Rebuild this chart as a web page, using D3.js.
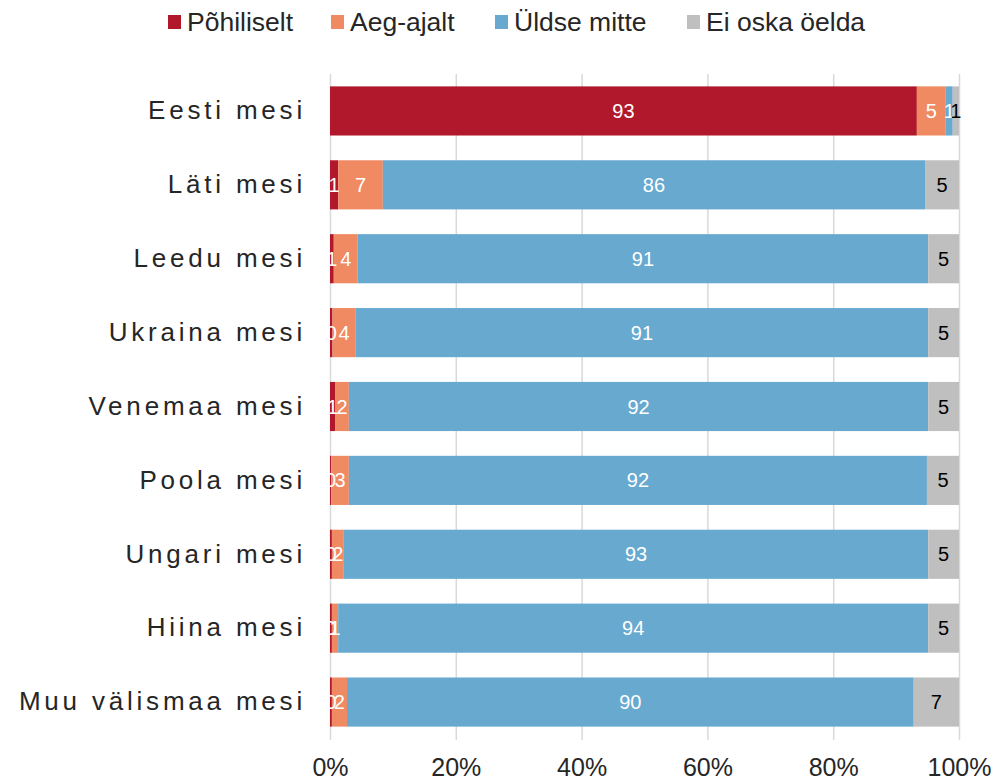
<!DOCTYPE html>
<html>
<head>
<meta charset="utf-8">
<script src="https://cdn.jsdelivr.net/npm/d3@7"></script>
<style>
  body { margin: 0; background: #fff; }
  svg { font-family: "Liberation Sans", Arial, sans-serif; }
</style>
</head>
<body>
<svg id="chart_svg" width="997" height="782"></svg>
<script>
// categories (top to bottom)
const categories = [
  "Eesti mesi", "Läti mesi", "Leedu mesi", "Ukraina mesi", "Venemaa mesi",
  "Poola mesi", "Ungari mesi", "Hiina mesi", "Muu välismaa mesi"
]

// series names
const seriesNames = ["Põhiliselt", "Aeg-ajalt", "Üldse mitte", "Ei oska öelda"]

// series values, percent
const pohiliselt = [93.3, 1.3, 0.6, 0.4, 0.8, 0.2, 0.3, 0.3, 0.3]
const aegAjalt = [4.6, 7.1, 3.8, 3.7, 2.2, 2.8, 1.9, 1.0, 2.4]
const uldseMitte = [1.1, 86.2, 90.7, 91.0, 92.1, 91.9, 92.9, 93.8, 90.1]
const eiOska = [1.0, 5.4, 4.9, 4.9, 4.9, 5.1, 4.9, 4.9, 7.2]

// x axis ticks
const xTicks = [0, 20, 40, 60, 80, 100]

const colors = ["#b2182b", "#ef8a62", "#67a9cf", "#bfbfbf"]
const labelColors = ["#ffffff", "#ffffff", "#ffffff", "#000000"]

const margin = { top: 74, bottom: 43, left: 330, right: 38 }
const svg = d3.select("#chart_svg")
const width = +svg.attr("width")
const height = +svg.attr("height")

const table = categories.map((c, i) => ({
  category: c,
  [seriesNames[0]]: pohiliselt[i],
  [seriesNames[1]]: aegAjalt[i],
  [seriesNames[2]]: uldseMitte[i],
  [seriesNames[3]]: eiOska[i],
}))

const stacked = d3.stack().keys(seriesNames)(table)

const xScale = d3.scaleLinear()
  .domain([0, 100])
  .range([margin.left, width - margin.right])

const yScale = d3.scaleBand()
  .domain(categories)
  .range([margin.top, height - margin.bottom])
  .paddingInner(0.335)
  .paddingOuter(0.1675)

const colorScale = d3.scaleOrdinal().domain(seriesNames).range(colors)
const labelColor = d3.scaleOrdinal().domain(seriesNames).range(labelColors)

/**
 * Grid lines
 */
const g_grid = svg.append("g")
  .attr("transform", `translate(0,${height - margin.bottom + 1})`)
  .call(d3.axisBottom(xScale)
    .tickValues(xTicks)
    .tickSize(-(height - margin.bottom - margin.top + 1))
    .tickFormat(""))
g_grid.select(".domain").remove()
g_grid.selectAll("line").attr("stroke", "#d9d9d9").attr("stroke-width", 1.5)

/**
 * Bars
 */
const g_series = svg.append("g")
  .selectAll("g")
  .data(stacked)
  .join("g")
  .attr("fill", (d) => colorScale(d.key))

g_series.selectAll("rect")
  .data((d) => d)
  .join("rect")
  .attr("x", (d) => xScale(d[0]))
  .attr("y", (d) => yScale(d.data.category))
  .attr("width", (d) => xScale(d[1]) - xScale(d[0]))
  .attr("height", yScale.bandwidth())

/**
 * Value labels
 */
const g_labels = svg.append("g")
  .selectAll("g")
  .data(stacked)
  .join("g")
  .attr("fill", (d) => labelColor(d.key))

g_labels.selectAll("text")
  .data((d) => d)
  .join("text")
  .attr("x", (d) => xScale((d[0] + d[1]) / 2))
  .attr("y", (d) => yScale(d.data.category) + yScale.bandwidth() / 2)
  .attr("dy", "0.35em")
  .attr("text-anchor", "middle")
  .attr("font-size", 20)
  .text((d) => Math.round(d[1] - d[0]))

/**
 * Category axis
 */
const g_y_axis = svg.append("g")
  .attr("transform", `translate(${margin.left},0)`)
  .call(d3.axisLeft(yScale).tickSize(0).tickPadding(24))
g_y_axis.select(".domain").remove()
g_y_axis.selectAll("text")
  .attr("font-size", 26)
  .attr("letter-spacing", 3.8)
  .attr("fill", "#262626")

/**
 * X axis tick labels
 */
const g_x_axis = svg.append("g")
  .attr("transform", `translate(0,${height - margin.bottom})`)
  .call(d3.axisBottom(xScale)
    .tickValues(xTicks)
    .tickSize(0)
    .tickPadding(19)
    .tickFormat((d) => d + "%"))
g_x_axis.select(".domain").remove()
g_x_axis.selectAll("text")
  .attr("font-size", 25)
  .attr("fill", "#262626")

/**
 * Legend
 */
const legendX = [168, 331, 495, 687]
const legend = svg.append("g")
  .selectAll("g")
  .data(seriesNames)
  .join("g")
  .attr("transform", (d, i) => `translate(${legendX[i]},22)`)

legend.append("rect")
  .attr("x", 0)
  .attr("y", -7)
  .attr("width", 13)
  .attr("height", 14)
  .attr("fill", (d) => colorScale(d))

legend.append("text")
  .attr("x", 19)
  .attr("dy", "0.35em")
  .attr("font-size", 26.5)
  .attr("fill", "#262626")
  .text((d) => d)
</script>
</body>
</html>
